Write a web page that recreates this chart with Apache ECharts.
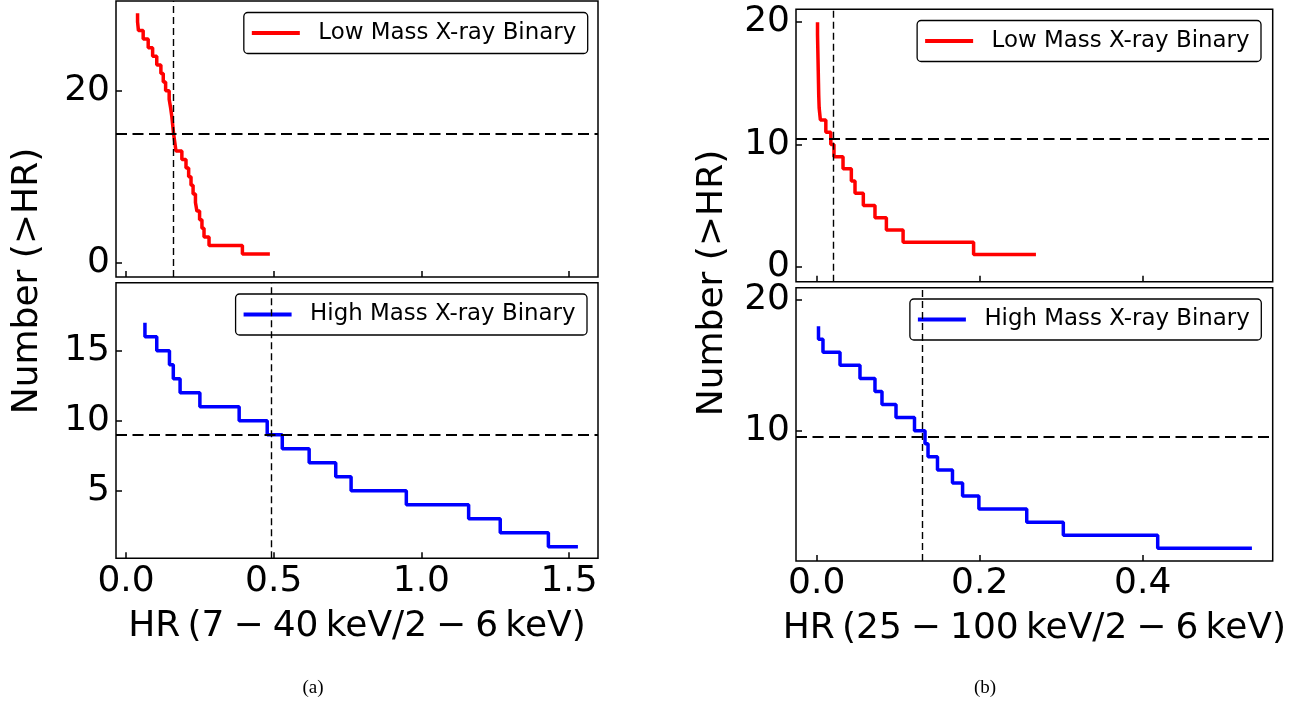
<!DOCTYPE html>
<html>
<head>
<meta charset="utf-8">
<script src="https://cdn.jsdelivr.net/npm/echarts@6/dist/echarts.min.js"></script>
<style>
  html, body { margin: 0; padding: 0; background: #ffffff; }
  #chart { width: 1296px; height: 707px; }
</style>
</head>
<body>
<div id="chart"></div>
<script>
// Cumulative number of sources above a given hardness ratio, N(>HR).
// Panel (a): HR = (7-40 keV) / (2-6 keV)
const hrLmxbA = [0.039, 0.042, 0.058, 0.075, 0.090, 0.104, 0.118, 0.126, 0.134, 0.146,
                 0.151, 0.155, 0.158, 0.161, 0.165, 0.169, 0.189, 0.203, 0.212, 0.220,
                 0.227, 0.235, 0.240, 0.249, 0.257, 0.264, 0.281, 0.394, 0.487];
const nLmxbA = [29, 28, 27, 26, 25, 24, 23, 22, 21, 20, 19, 18, 17, 16, 15,
                14, 13, 12, 11, 10, 9, 8, 7, 6, 5, 4, 3, 2, 1];

const hrHmxbA = [0.064, 0.104, 0.147, 0.160, 0.183, 0.250, 0.383, 0.478, 0.529,
                 0.620, 0.710, 0.762, 0.949, 1.160, 1.267, 1.430, 1.530];
const nHmxbA = [17, 16, 15, 14, 13, 12, 11, 10, 9, 8, 7, 6, 5, 4, 3, 2, 1];

// Panel (b): HR = (25-100 keV) / (2-6 keV)
const hrLmxbB = [0.0010, 0.0013, 0.0016, 0.0019, 0.0022, 0.0025, 0.0030, 0.0045, 0.0112, 0.0173,
                 0.0212, 0.0323, 0.0425, 0.0470, 0.0572, 0.0715, 0.0855, 0.1060, 0.1925, 0.2690];
const nLmxbB = [20, 19, 18, 17, 16, 15, 14, 13, 12, 11, 10, 9, 8, 7, 6, 5, 4, 3, 2, 1];

const hrHmxbB = [0.0022, 0.0077, 0.0286, 0.0531, 0.0715, 0.0801, 0.0973, 0.1200, 0.1329,
                 0.1366, 0.1482, 0.1666, 0.1790, 0.1990, 0.2577, 0.3026, 0.4184, 0.5340];
const nHmxbB = [18, 17, 16, 15, 14, 13, 12, 11, 10, 9, 8, 7, 6, 5, 4, 3, 2, 1];

// Dividing lines [HR, N] for each panel
const cutLmxbA = [0.16, 15];
const cutHmxbA = [0.49, 9];
const cutLmxbB = [0.018, 10.5];
const cutHmxbB = [0.131, 9.5];

// Tick positions
const xTicksA = [0.0, 0.5, 1.0, 1.5];
const xTicksB = [0.0, 0.2, 0.4];
const yTicksLmxbA = [0, 20];
const yTicksHmxbA = [5, 10, 15];
const yTicksLmxbB = [0, 10, 20];
const yTicksHmxbB = [10, 20];

// Axis limits
const xRangeA = [-0.034, 1.598];
const xRangeB = [-0.0254, 0.5595];
const yRangeLmxbA = [-1.66, 30.43];
const yRangeHmxbA = [0.17, 19.86];
const yRangeLmxbB = [-1.23, 21.05];
const yRangeHmxbB = [0.03, 20.94];

const LMXB = 'Low Mass X-ray Binary';
const HMXB = 'High Mass X-ray Binary';
const FONT = 'DejaVu Sans';
const W = 1296;

const pairs = (xs, ys) => xs.map((x, i) => [x, ys[i]]);

const grids = [
  { left: 116, top: 1, width: 482, height: 276 },
  { left: 116, top: 282.7, width: 482, height: 275.6 },
  { left: 796, top: 9.3, width: 476.7, height: 272.4 },
  { left: 796, top: 287.7, width: 476.7, height: 273.3 }
].map(g => Object.assign({ show: true, borderColor: '#000', borderWidth: 1.5, backgroundColor: 'transparent' }, g));

const tick = (values) => ({
  show: true, inside: true, length: 6, customValues: values,
  lineStyle: { color: '#000', width: 1.5 }
});

function xAxis(gridIndex, range, ticks, labelled, name) {
  return {
    type: 'value', gridIndex, min: range[0], max: range[1], position: 'bottom',
    axisLine: { show: false, onZero: false },
    splitLine: { show: false },
    axisTick: tick(ticks),
    axisLabel: {
      show: labelled, customValues: ticks, margin: 5,
      color: '#000', fontFamily: FONT, fontSize: 36,
      formatter: v => v.toFixed(1)
    },
    name: labelled ? name : '',
    nameLocation: 'middle', nameGap: 50,
    nameTextStyle: { color: '#000', fontFamily: FONT, fontSize: 36 }
  };
}

function yAxis(gridIndex, range, ticks) {
  return {
    type: 'value', gridIndex, min: range[0], max: range[1], position: 'left',
    axisLine: { show: false, onZero: false },
    splitLine: { show: false },
    axisTick: tick(ticks),
    axisLabel: {
      customValues: ticks, margin: 6,
      color: '#000', fontFamily: FONT, fontSize: 36
    }
  };
}

function cutLines(cut) {
  return {
    silent: true, animation: false, symbol: ['none', 'none'],
    label: { show: false }, emphasis: { disabled: true },
    data: [
      { xAxis: cut[0], lineStyle: { color: '#000', width: 1.4, type: [7, 4] } },
      { yAxis: cut[1], lineStyle: { color: '#000', width: 2.2, type: [11, 5.5] } }
    ]
  };
}

function stepSeries(name, idx, xs, ys, color, cut) {
  return {
    type: 'line', name, xAxisIndex: idx, yAxisIndex: idx,
    data: pairs(xs, ys), step: 'start',
    symbol: 'none', showSymbol: false,
    lineStyle: { color, width: 3.5 }, itemStyle: { color },
    emphasis: { disabled: true },
    markLine: cutLines(cut)
  };
}

function legendBox(name, rightEdge, top) {
  return {
    data: [{ name, icon: 'rect' }], selectedMode: false,
    right: W - rightEdge, top,
    padding: [8, 11.5, 8, 8],
    borderColor: '#000', borderWidth: 1.3, borderRadius: 4,
    backgroundColor: '#fff',
    itemWidth: 48, itemHeight: 4,
    formatter: '{t|{name}}',
    textStyle: {
      color: '#000', fontFamily: FONT, fontSize: 22.9, lineHeight: 25,
      rich: { t: { padding: [0, 0, 0, 13.5], color: '#000', fontFamily: FONT, fontSize: 22.9, lineHeight: 25 } }
    }
  };
}

const xNameA = 'HR\u2009(7\u2005\u2212\u200540\u2009keV/2\u2005\u2212\u20056\u2009keV)';
const xNameB = 'HR\u2009(25\u2005\u2212\u2005100\u2009keV/2\u2005\u2212\u20056\u2009keV)';

const option = {
  animation: false,
  backgroundColor: '#fff',
  grid: grids,
  xAxis: [
    xAxis(0, xRangeA, xTicksA, false, ''),
    xAxis(1, xRangeA, xTicksA, true, xNameA),
    xAxis(2, xRangeB, xTicksB, false, ''),
    xAxis(3, xRangeB, xTicksB, true, xNameB)
  ],
  yAxis: [
    yAxis(0, yRangeLmxbA, yTicksLmxbA),
    yAxis(1, yRangeHmxbA, yTicksHmxbA),
    yAxis(2, yRangeLmxbB, yTicksLmxbB),
    yAxis(3, yRangeHmxbB, yTicksHmxbB)
  ],
  legend: [
    legendBox(LMXB, 587.7, 12.5),
    legendBox(HMXB, 587, 294),
    legendBox(LMXB, 1261, 20.5),
    legendBox(HMXB, 1261.3, 299)
  ],
  series: [
    stepSeries(LMXB, 0, hrLmxbA, nLmxbA, '#ff0000', cutLmxbA),
    stepSeries(HMXB, 1, hrHmxbA, nHmxbA, '#0000ff', cutHmxbA),
    stepSeries(LMXB, 2, hrLmxbB, nLmxbB, '#ff0000', cutLmxbB),
    stepSeries(HMXB, 3, hrHmxbB, nHmxbB, '#0000ff', cutHmxbB)
  ],
  graphic: [
    { type: 'text', x: 28, y: 281, rotation: Math.PI / 2,
      style: { text: 'Number (>HR)', fill: '#000', fontFamily: FONT, fontSize: 36, align: 'center', verticalAlign: 'middle' } },
    { type: 'text', x: 713, y: 283, rotation: Math.PI / 2,
      style: { text: 'Number (>HR)', fill: '#000', fontFamily: FONT, fontSize: 36, align: 'center', verticalAlign: 'middle' } },
    { type: 'text', x: 313, y: 688,
      style: { text: '(a)', fill: '#000', fontFamily: 'Liberation Serif', fontSize: 19, align: 'center', verticalAlign: 'middle' } },
    { type: 'text', x: 985, y: 688,
      style: { text: '(b)', fill: '#000', fontFamily: 'Liberation Serif', fontSize: 19, align: 'center', verticalAlign: 'middle' } }
  ]
};

const chart = echarts.init(document.getElementById('chart'), null, { renderer: 'canvas' });
chart.setOption(option);
</script>
</body>
</html>
